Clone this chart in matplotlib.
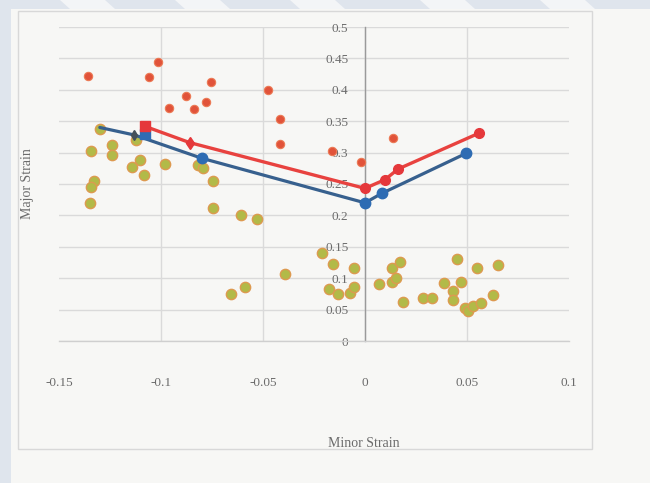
import matplotlib
matplotlib.use("Agg")
import matplotlib.pyplot as plt
from matplotlib.patches import Rectangle, Polygon

# ---- data -------------------------------------------------------------
# measured strains (failed / cracked grid circles)
red_dots_x = [-0.1356, -0.1013, -0.1057, -0.0756, -0.0877, -0.0779, -0.0959,
              -0.0840, -0.0475, -0.0418, -0.0418, -0.0160, -0.0020, 0.0139]
red_dots_y = [0.422, 0.445, 0.420, 0.412, 0.390, 0.380, 0.371,
              0.369, 0.400, 0.353, 0.313, 0.302, 0.285, 0.324]

# measured strains (safe grid circles)
green_x = [-0.1299, -0.1123, -0.1341, -0.1240, -0.1240, -0.1103, -0.1144,
           -0.1082, -0.0982, -0.0817, -0.0795, -0.0743, -0.1327, -0.1345,
           -0.1347, -0.0747, -0.0608, -0.0527, -0.0212, -0.0155, -0.0052,
           -0.0392, -0.0590, -0.0655, -0.0175, -0.0131, -0.0074, -0.0052,
           0.0068, 0.0131, 0.0172, 0.0131, 0.0152, 0.0188, 0.0286, 0.0330,
           0.0389, 0.0430, 0.0430, 0.0450, 0.0469, 0.0490, 0.0507, 0.0531,
           0.0569, 0.0550, 0.0629, 0.0650]
green_y = [0.337, 0.320, 0.303, 0.312, 0.296, 0.289, 0.277,
           0.265, 0.282, 0.281, 0.276, 0.255, 0.254, 0.246,
           0.219, 0.211, 0.200, 0.195, 0.140, 0.122, 0.117,
           0.107, 0.086, 0.075, 0.083, 0.075, 0.076, 0.086,
           0.090, 0.117, 0.126, 0.094, 0.101, 0.062, 0.069, 0.069,
           0.092, 0.080, 0.066, 0.130, 0.094, 0.052, 0.047, 0.055,
           0.060, 0.117, 0.073, 0.121]

# forming limit curves
red_x = [-0.108, -0.086, 0.0, 0.0098, 0.0163, 0.0559]
red_y = [0.342, 0.316, 0.243, 0.257, 0.274, 0.331]
blue_x = [-0.130, -0.113, -0.080, 0.0, 0.0082, 0.0497]
blue_y = [0.340, 0.328, 0.291, 0.220, 0.235, 0.299]
blue_start_x = [-0.108]
blue_start_y = [0.330]

x_ticks = [-0.15, -0.1, -0.05, 0, 0.05, 0.1]
x_tick_labels = ["-0.15", "-0.1", "-0.05", "0", "0.05", "0.1"]
y_ticks = [0, 0.05, 0.1, 0.15, 0.2, 0.25, 0.3, 0.35, 0.4, 0.45, 0.5]
y_tick_labels = ["0", "0.05", "0.1", "0.15", "0.2", "0.25", "0.3",
                 "0.35", "0.4", "0.45", "0.5"]

# ---- figure -------------------------------------------------------------
plt.rcParams["font.family"] = ["Liberation Serif", "DejaVu Serif"]
W, H = 650, 483
fig = plt.figure(figsize=(W / 100, H / 100), dpi=100)
fig.patch.set_facecolor("#f7f7f5")


def fx(px):
    return px / W


def fy(py):
    return 1 - py / H


# page edge shading along the left and top
fig.patches.append(Rectangle((0, 0), fx(11), 1, transform=fig.transFigure,
                             facecolor="#dfe5ed", edgecolor="none", zorder=0))
fig.patches.append(Rectangle((0, fy(9)), 1, 1 - fy(9), transform=fig.transFigure,
                             facecolor="#dfe5ed", edgecolor="none", zorder=0))
for x0 in (60, 175, 290, 420, 540):
    fig.patches.append(Polygon([(fx(x0), 1), (fx(x0 + 45), 1),
                                (fx(x0 + 55), fy(9)), (fx(x0 + 10), fy(9))],
                               closed=True, transform=fig.transFigure,
                               facecolor="#f3f5f7", edgecolor="none", zorder=0))
# chart border
fig.patches.append(Rectangle((fx(18), fy(449)), fx(592 - 18), fy(11) - fy(449),
                             transform=fig.transFigure, facecolor="none",
                             edgecolor="#d8d8d8", linewidth=1.0, zorder=1))

ax = fig.add_axes([fx(59), fy(341), fx(569 - 59), fy(27) - fy(341)])
ax.set_facecolor("none")
ax.set_xlim(-0.15, 0.1)
ax.set_ylim(0, 0.5)

ax.set_xticks(x_ticks)
ax.set_xticklabels(x_tick_labels)
ax.set_yticks(y_ticks)
ax.set_yticklabels(y_tick_labels)

text_color = "#6b6b6b"
ax.tick_params(axis="x", length=0, pad=26, labelsize=9.5, labelcolor=text_color)
ax.tick_params(axis="y", length=0, pad=12, labelsize=9.5, labelcolor=text_color)

ax.grid(True, color="#dadada", linewidth=1.0)
ax.set_axisbelow(True)
xgl = ax.xaxis.get_gridlines()
xgl[0].set_visible(False)
xgl[-1].set_visible(False)

for side in ("top", "right"):
    ax.spines[side].set_visible(False)
ax.spines["left"].set_position(("data", 0))
ax.spines["left"].set_color("#9a9a9a")
ax.spines["left"].set_linewidth(1.0)
ax.spines["bottom"].set_color("#cfcfcf")
ax.spines["bottom"].set_linewidth(1.0)

ax.set_xlabel("Minor Strain", fontsize=10, color=text_color)
ax.xaxis.set_label_coords((364 - 59) / 510, (341 - 437) / 314)
ax.set_ylabel("Major Strain", fontsize=10, color=text_color)
ax.yaxis.set_label_coords((34 - 59) / 510, 0.5)

# measured points
ax.scatter(green_x, green_y, s=55, facecolor="#b2ba48", edgecolor="#dd9a50",
           linewidth=1.0, zorder=3)
ax.scatter(red_dots_x, red_dots_y, s=36, facecolor="#e1533a", edgecolor="#ec7a55",
           linewidth=0.8, zorder=3)

# forming limit curves
ax.plot(blue_x, blue_y, color="#37608e", linewidth=2.3, zorder=4,
        solid_capstyle="round")
ax.plot(blue_x[1:2], blue_y[1:2], linestyle="none", marker="d", markersize=5,
        color="#44505a", zorder=5)
ax.plot(blue_x[2:], blue_y[2:], linestyle="none", marker="o", markersize=7.5,
        color="#2e6cb3", zorder=5)
ax.plot(blue_start_x, blue_start_y, linestyle="none", marker="s", markersize=7,
        color="#2e6cb3", zorder=5)

ax.plot(red_x, red_y, color="#e8423f", linewidth=2.4, zorder=6,
        solid_capstyle="round")
ax.plot(red_x[:1], red_y[:1], linestyle="none", marker="s", markersize=7,
        color="#e5383b", zorder=7)
ax.plot(red_x[1:2], red_y[1:2], linestyle="none", marker="d", markersize=6.5,
        color="#e5383b", zorder=7)
ax.plot(red_x[2:], red_y[2:], linestyle="none", marker="o", markersize=7,
        color="#e5383b", zorder=7)

fig.savefig("out.png", dpi=100, facecolor=fig.get_facecolor())
